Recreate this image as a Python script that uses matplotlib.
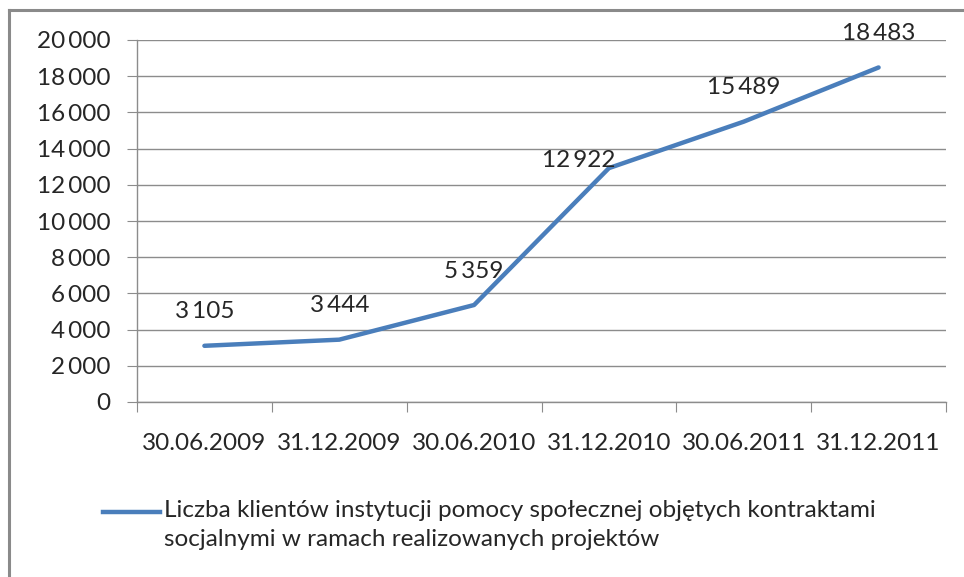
import numpy as np
import matplotlib.pyplot as plt
from matplotlib.lines import Line2D

# data
dates = ["30.06.2009", "31.12.2009", "30.06.2010", "31.12.2010", "30.06.2011", "31.12.2011"]
clients = [3105, 3444, 5359, 12922, 15489, 18483]
series_name = ("Liczba klientów instytucji pomocy społecznej objętych kontraktami\n"
               "socjalnymi w ramach realizowanych projektów")

plt.rcParams['font.family'] = ['Lato', 'DejaVu Sans']
FS = 17.5
TXT = "#262626"
BLUE = "#4A7EBB"

def fmt(v):
    # thousands separated by a thin space
    return "{:,}".format(v).replace(",", "\u2009")

fig = plt.figure(figsize=(9.64, 5.77), dpi=100)
ax = fig.add_axes([137/964, 1 - 402/577, (946 - 137)/964, (402 - 40)/577])

x = np.arange(len(dates))
ax.plot(x, clients, color=BLUE, lw=3.2, solid_capstyle="round")

# data labels
for i, v in enumerate(clients):
    dx, dy = 0, 34
    if i == 3:
        dx, dy = -30, 8
    ax.annotate(fmt(v), (x[i], v), xytext=(dx, dy), textcoords="offset pixels",
                ha="center", va="center", fontsize=FS, color=TXT)

ax.set_xlim(-0.5, len(dates) - 0.5)
ax.set_ylim(0, 20000)
ax.set_yticks(np.arange(0, 20001, 2000))
ax.set_yticklabels([fmt(v) for v in range(0, 20001, 2000)])
ax.yaxis.grid(True, color="#8c8c8c", lw=1)
ax.set_axisbelow(True)

# category labels centred, ticks at boundaries
ax.set_xticks(np.arange(-0.5, len(dates)), minor=False)
ax.set_xticklabels([""] * (len(dates) + 1))
ax.set_xticks(x, minor=True)
ax.set_xticklabels(dates, minor=True)
ax.tick_params(axis="x", which="minor", length=0, pad=22, labelsize=FS, labelcolor=TXT)
ax.tick_params(axis="x", which="major", length=7, color="#8c8c8c", direction="out")
ax.tick_params(axis="y", length=7, color="#8c8c8c", labelsize=FS, labelcolor=TXT, pad=12)

for s in ["top", "right"]:
    ax.spines[s].set_visible(False)
for s in ["left", "bottom"]:
    ax.spines[s].set_color("#8c8c8c")
    ax.spines[s].set_linewidth(1)

# legend below: key aligned with the first text line, as in Excel
fig.add_artist(Line2D([103/964, 160/964], [1 - 512/577] * 2, color=BLUE, lw=3.2))
fig.text(164/964, 1 - 500/577, series_name, ha="left", va="top", fontsize=FS,
         color=TXT, linespacing=1.5)

# chart border (left and top visible)
fig.add_artist(Line2D([9/964, 9/964], [0, 1 - 10/577], color="#8a8a8a", lw=2.2))
fig.add_artist(Line2D([9/964, 1], [1 - 10/577, 1 - 10/577], color="#8a8a8a", lw=2.2))

fig.savefig("out.png", dpi=100)
